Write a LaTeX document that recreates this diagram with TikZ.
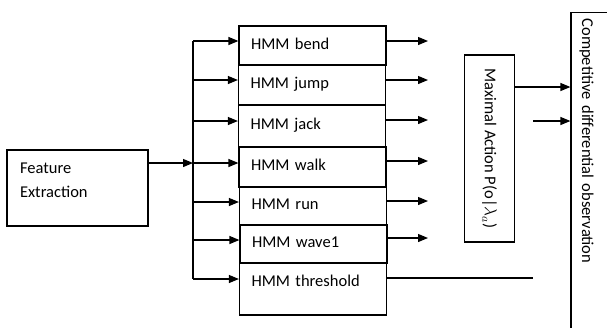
\documentclass[tikz,border=0pt]{standalone}
\usepackage{fontspec}
\setmainfont{Carlito}
\usepackage{tikz}
\usetikzlibrary{arrows.meta}

\begin{document}
\begin{tikzpicture}[x=1pt,y=-1pt,line width=1.2pt,
    every node/.style={font=\fontsize{16.5}{24}\selectfont},
    arr/.style={-{Triangle[length=10pt,width=8pt]}},
    hmmbox/.style={draw,text width=123pt,inner xsep=12pt,inner ysep=0pt,align=left,text height=12pt,text depth=5pt}]
    \useasboundingbox (0,0) rectangle (607,327);
    \clip (0,0) rectangle (607,327);
    \node[draw,text width=115pt,inner xsep=13pt,minimum height=76pt,align=left] (fe) at (77.5,188) {Feature\\Extraction\\[-8pt]\mbox{}};
    \node[hmmbox,minimum height=39pt] (bend) at (312.5,45.5) {HMM bend};
    \node[hmmbox,minimum height=40pt] (jump) at (312,85) {HMM jump};
    \node[hmmbox,minimum height=42pt] (jack) at (312,126) {HMM jack};
    \node[hmmbox,minimum height=40pt] (walk) at (312.5,167) {HMM walk};
    \node[hmmbox,minimum height=38pt] (run) at (313,206) {HMM run};
    \node[hmmbox,minimum height=38pt] (wave) at (313.5,244) {HMM wave1};
    \node[hmmbox,minimum height=52pt,text depth=17pt] (thr) at (313,289) {HMM threshold};
    \node[draw,rotate=-90,minimum width=187pt,minimum height=50pt] (max) at (489.5,148.5) {Maximal Action P(o|$\lambda_a$)};
    \node[draw,rotate=-90,anchor=base west,text width=330pt,inner xsep=6pt,inner ysep=0pt,text height=50pt,text depth=11pt] (comp) at (582,12) {Competitive differential observation};
    \coordinate (b1) at (193,41);
    \coordinate (b2) at (193,80);
    \coordinate (b3) at (193,121);
    \coordinate (b4) at (193,163);
    \coordinate (b5) at (193,202);
    \coordinate (b6) at (193,240);
    \coordinate (b7) at (193,279);
    \coordinate (o1) at (428,41);
    \coordinate (o2) at (428,80);
    \coordinate (o3) at (428,120);
    \coordinate (o4) at (428,161);
    \coordinate (o5) at (428,201);
    \coordinate (o6) at (428,238);
    \coordinate (o7) at (533,278);
    \coordinate (c1) at (571,87);
    \coordinate (c2) at (533,121);
    \draw (b1) -- (b7);
    \draw [arr] (fe.east |- b4) -- (b4);
    \draw [arr] (b1) -- (b1 -| bend.west);
    \draw [arr] (b2) -- (b2 -| jump.west);
    \draw [arr] (b3) -- (b3 -| jack.west);
    \draw [arr] (b4) -- (b4 -| walk.west);
    \draw [arr] (b5) -- (b5 -| run.west);
    \draw [arr] (b6) -- (b6 -| wave.west);
    \draw [arr] (b7) -- (b7 -| thr.west);
    \draw [arr] (o1 -| bend.east) -- (o1);
    \draw [arr] (o2 -| jump.east) -- (o2);
    \draw [arr] (o3 -| jack.east) -- (o3);
    \draw [arr] (o4 -| walk.east) -- (o4);
    \draw [arr] (o5 -| run.east) -- (o5);
    \draw [arr] (o6 -| wave.east) -- (o6);
    \draw (o7 -| thr.east) -- (o7);
    \draw [arr] (c1 -| max.north) -- (c1 -| comp.south west);
    \draw [arr] (c2) -- (c2 -| comp.south west);
  \end{tikzpicture}
\end{document}
